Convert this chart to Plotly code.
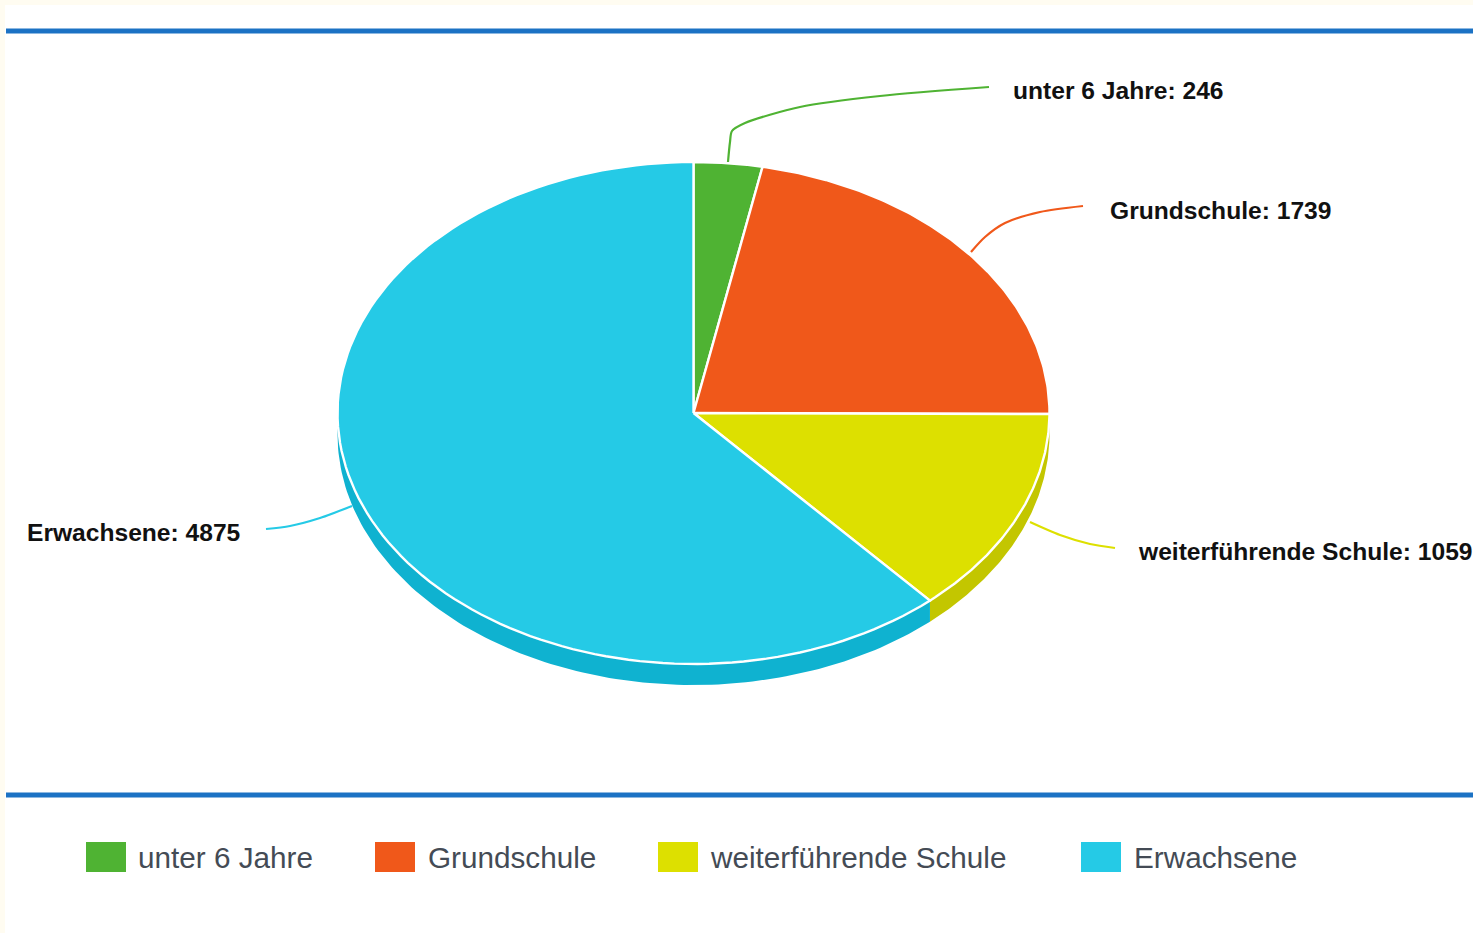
import numpy as np
import plotly.graph_objects as go

categories = ["unter 6 Jahre", "Grundschule", "weiterführende Schule", "Erwachsene"]
values = [246, 1739, 1059, 4875]
colors = ["#4fb333", "#f0581a", "#dde000", "#25cae6"]
wall_colors = ["#3f8f29", "#c04614", "#c3c600", "#0fb2d0"]
label_font = "Liberation Sans, Arial, sans-serif"

W, H = 1473, 933
cx, cy, rx, ry, depth = 693.5, 413, 356, 251, 21

label_pos = [(1011, 90), (1108, 210), (1136, 551), (25, 532)]
leaders = [
    ([728, 730, 732, 745, 800, 880, 989], [162, 142, 131, 123, 107, 96, 87]),
    ([971, 985, 1005, 1040, 1083], [252, 237, 223, 212, 206]),
    ([1030, 1060, 1090, 1115], [522, 535, 544, 548]),
    ([352, 320, 290, 266], [506, 518, 526, 529]),
]
legend_box_x = [86, 375, 658, 1081]
legend_text_x = [136, 426, 708, 1132]


def arc(a0, a1, dy=0, n=120):
    t = np.linspace(a0, a1, n)
    return cx + rx * np.sin(t), cy + dy + ry * -np.cos(t)


fractions = np.array(values) / sum(values)
edges = np.concatenate([[0], np.cumsum(fractions)]) * 2 * np.pi

fig = go.Figure()

# Side wall of the disc: only the front half (from 90 to 270 degrees) is visible.
for i in range(len(values)):
    a0, a1 = max(edges[i], np.pi / 2), min(edges[i + 1], 3 * np.pi / 2)
    if a1 <= a0:
        continue
    x0, y0 = arc(a0, a1)
    x1, y1 = arc(a1, a0, depth)
    fig.add_trace(go.Scatter(
        x=np.concatenate([x0, x1]), y=np.concatenate([y0, y1]),
        fill="toself", fillcolor=wall_colors[i], mode="lines",
        line=dict(width=0, color=wall_colors[i]), hoverinfo="skip", showlegend=False))

# Top face of the disc.
for i, name in enumerate(categories):
    x0, y0 = arc(edges[i], edges[i + 1])
    fig.add_trace(go.Scatter(
        x=np.concatenate([[cx], x0, [cx]]), y=np.concatenate([[cy], y0, [cy]]),
        fill="toself", fillcolor=colors[i], mode="lines",
        line=dict(width=2.4, color="#ffffff"), name=name,
        text=f"{name}: {values[i]}", hoverinfo="text", showlegend=False))

# Leader lines.
for i, (lx, ly) in enumerate(leaders):
    fig.add_trace(go.Scatter(
        x=lx, y=ly, mode="lines", line=dict(width=2.2, color=colors[i], shape="spline", smoothing=0.8),
        hoverinfo="skip", showlegend=False))

annotations = []
for i, name in enumerate(categories):
    annotations.append(dict(
        x=label_pos[i][0], y=label_pos[i][1], xref="x", yref="y", xanchor="left", yanchor="middle",
        text=f"<b>{name}: {values[i]}</b>", showarrow=False, align="left",
        font=dict(family=label_font, size=24.6, color="#111111")))
    annotations.append(dict(
        x=legend_text_x[i], y=857, xref="x", yref="y", xanchor="left", yanchor="middle",
        text=name, showarrow=False, align="left",
        font=dict(family=label_font, size=29.7, color="#444b55")))

shapes = [
    dict(type="rect", x0=5, x1=W, y0=5, y1=H, fillcolor="#ffffff", line=dict(width=0), layer="below"),
    dict(type="line", x0=6, x1=W, y0=31, y1=31, line=dict(color="#1c72c4", width=5), layer="below"),
    dict(type="line", x0=6, x1=W, y0=795, y1=795, line=dict(color="#1c72c4", width=5), layer="below"),
]
for i in range(len(categories)):
    shapes.append(dict(type="rect", x0=legend_box_x[i], x1=legend_box_x[i] + 40, y0=842, y1=872,
                       fillcolor=colors[i], line=dict(width=0)))

fig.update_layout(
    width=W, height=H, margin=dict(l=0, r=0, t=0, b=0), paper_bgcolor="#fffcf1", plot_bgcolor="rgba(0,0,0,0)",
    xaxis=dict(range=[0, W], visible=False, fixedrange=True),
    yaxis=dict(range=[H, 0], visible=False, fixedrange=True),
    shapes=shapes, annotations=annotations, showlegend=False,
)
fig.write_html("out.html", config=dict(displayModeBar=False),
               post_script="document.body.style.margin='0';document.body.style.overflow='hidden';")
